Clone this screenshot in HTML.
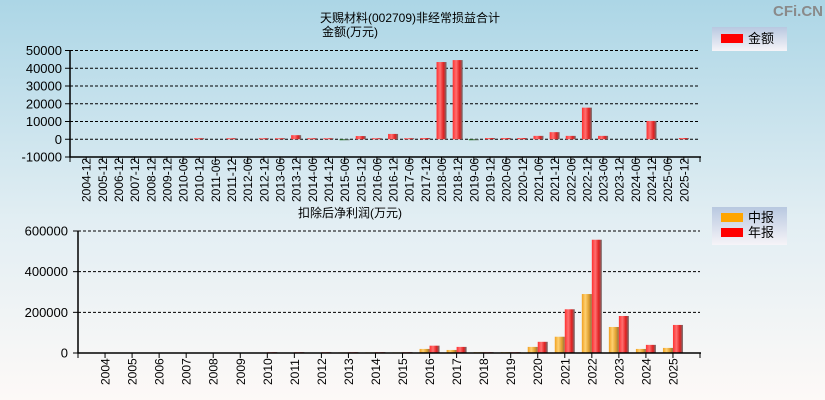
<!DOCTYPE html>
<html><head><meta charset="utf-8"><style>
body{margin:0;width:825px;height:400px;overflow:hidden;font-family:"Liberation Sans","Noto Sans CJK SC",sans-serif;}
svg{display:block}
</style></head><body>
<svg width="825" height="400" xmlns="http://www.w3.org/2000/svg" font-family="Liberation Sans, Noto Sans CJK SC, sans-serif">
<defs>
<linearGradient id="bg" x1="0" y1="0" x2="0" y2="1"><stop offset="0" stop-color="#acd6e6"/><stop offset="0.55" stop-color="#e2eef3"/><stop offset="1" stop-color="#fdf9f7"/></linearGradient>
<linearGradient id="red" x1="0" y1="0" x2="1" y2="0"><stop offset="0" stop-color="#ff3030"/><stop offset="0.35" stop-color="#ff7070"/><stop offset="0.7" stop-color="#e02020"/><stop offset="1" stop-color="#707070"/></linearGradient>
<linearGradient id="org" x1="0" y1="0" x2="1" y2="0"><stop offset="0" stop-color="#f0a020"/><stop offset="0.35" stop-color="#ffd070"/><stop offset="0.7" stop-color="#e0a030"/><stop offset="1" stop-color="#907040"/></linearGradient>
<linearGradient id="grn" x1="0" y1="0" x2="1" y2="0"><stop offset="0" stop-color="#208020"/><stop offset="1" stop-color="#707070"/></linearGradient>
<linearGradient id="leg" x1="0" y1="0" x2="0" y2="1"><stop offset="0" stop-color="#b8c8e0"/><stop offset="1" stop-color="#f6f4f8"/></linearGradient>
</defs>
<rect width="825" height="400" fill="url(#bg)"/>
<text x="798" y="16" font-size="15" font-weight="bold" fill="#8a8a8a" text-anchor="middle">CFi.CN</text>
<text x="410" y="22" font-size="12" text-anchor="middle">天赐材料(002709)非经常损益合计</text>
<text x="350" y="36" font-size="12" text-anchor="middle">金额(万元)</text>
<g>
<rect x="712" y="27" width="75" height="24" fill="url(#leg)"/>
<rect x="721" y="34" width="22" height="9" fill="#ff0000"/>
<text x="748" y="43" font-size="13">金额</text>
</g>
<g id="top"></g>
<text x="350" y="217" font-size="12" text-anchor="middle">扣除后净利润(万元)</text>
<g>
<rect x="712" y="207" width="75" height="38" fill="url(#leg)"/>
<rect x="721" y="213" width="22" height="9" fill="#ffa500"/>
<text x="748" y="222" font-size="13">中报</text>
<rect x="721" y="228" width="22" height="9" fill="#ff0000"/>
<text x="748" y="237" font-size="13">年报</text>
</g>
<g id="bot"></g>
</svg>
<script>
const topCats=["2004-12","2005-12","2006-12","2007-12","2008-12","2009-12","2010-06","2010-12","2011-06","2011-12","2012-06","2012-12","2013-06","2013-12","2014-06","2014-12","2015-06","2015-12","2016-06","2016-12","2017-06","2017-12","2018-06","2018-12","2019-06","2019-12","2020-06","2020-12","2021-06","2021-12","2022-06","2022-12","2023-06","2023-12","2024-06","2024-12","2025-06","2025-12"];
const topVals=[0,0,0,0,0,0,0,600,0,600,0,600,600,2300,600,600,-500,1800,600,3000,600,700,43500,44600,-500,700,700,700,1900,4000,1900,17800,1900,0,0,10300,0,700];
const topTicks=[50000,40000,30000,20000,10000,0,-10000];
const botCats=["2004","2005","2006","2007","2008","2009","2010","2011","2012","2013","2014","2015","2016","2017","2018","2019","2020","2021","2022","2023","2024","2025"];
const botMid=[0,0,0,0,0,0,0,0,0,3000,3000,3000,20000,15000,4000,4000,30000,80000,290000,128000,20000,25000];
const botAnn=[0,0,0,0,0,0,4000,4000,4000,4000,4000,4000,36000,30000,4000,4000,55000,215000,557000,182000,40000,138000];
const botTicks=[600000,400000,200000,0];
const NS="http://www.w3.org/2000/svg";
function mk(p,t,a){const e=document.createElementNS(NS,t);for(const k in a)e.setAttribute(k,a[k]);p.appendChild(e);return e;}
// top chart
(function(){
const g=document.getElementById('top');
const x0=70,x1=700,yTop=50.5,yBot=157;
const y=v=>yTop+(50000-v)*(yBot-yTop)/60000;
const step=(x1-x0)/(topCats.length+1);
const cx=i=>x0+(i+1)*step;
topTicks.forEach(t=>{
 if(t!==-10000){const l=mk(g,'line',{x1:x0,x2:x1,y1:y(t),y2:y(t),stroke:'#000','stroke-dasharray':'3,2','stroke-width':1});
 
 }
 const tk=mk(g,'line',{x1:x0-5,x2:x0,y1:y(t),y2:y(t),stroke:'#000'});
 
 
 const tx=mk(g,'text',{x:x0-8,y:y(t)+4.5,'font-size':13,'text-anchor':'end'});tx.textContent=t;
 
 
});
topVals.forEach((v,i)=>{
 if(v===0)return;
 const a=y(Math.max(v,0)),b=y(Math.min(v,0));
 const r=mk(g,'rect',{x:cx(i)-5,y:a,width:10,height:Math.max(b-a,1),fill:v<0?'url(#grn)':'url(#red)'});
 
 
});
const ax=mk(g,'path',{d:`M${x0} ${yTop}V${yBot}H${x1+1}`,stroke:'#000',fill:'none','stroke-width':1.5});


topCats.forEach((c,i)=>{
 const tk=mk(g,'line',{x1:cx(i),x2:cx(i),y1:yBot,y2:yBot+5,stroke:'#000'});
 
 
 const t=mk(g,'text',{transform:`translate(${cx(i)+4.5},${yBot+45}) rotate(-90)`,'font-size':12});t.textContent=c;
 
 
});
const e=mk(g,'line',{x1:x0,x2:x0,y1:yBot,y2:yBot+5,stroke:'#000'});


const e2=mk(g,'line',{x1:x1,x2:x1,y1:yBot,y2:yBot+5,stroke:'#000'});


})();
// bottom chart
(function(){
const g=document.getElementById('bot');
const x0=78,x1=700,yTop=231,yBot=353;
const y=v=>yBot-v*(yBot-yTop)/600000;
const step=(x1-x0)/(botCats.length+1);
const cx=i=>x0+(i+1)*step;
botTicks.forEach(t=>{
 if(t!==0){const l=mk(g,'line',{x1:x0,x2:x1,y1:y(t),y2:y(t),stroke:'#000','stroke-dasharray':'3,2','stroke-width':1});
 
 }
 const tk=mk(g,'line',{x1:x0-5,x2:x0,y1:y(t),y2:y(t),stroke:'#000'});
 
 
 const tx=mk(g,'text',{x:x0-10,y:y(t)+4.5,'font-size':13,'text-anchor':'end'});tx.textContent=t;
 
 
});
botMid.forEach((v,i)=>{
 if(v<=0)return;
 const r=mk(g,'rect',{x:cx(i)-10,y:y(v),width:10,height:yBot-y(v),fill:'url(#org)'});
 
 
});
botAnn.forEach((v,i)=>{
 if(v<=0)return;
 const r=mk(g,'rect',{x:cx(i),y:y(v),width:10,height:yBot-y(v),fill:'url(#red)'});
 
 
});
const ax=mk(g,'path',{d:`M${x0} ${yTop}V${yBot}H${x1+1}`,stroke:'#000',fill:'none','stroke-width':1.5});


botCats.forEach((c,i)=>{
 const tk=mk(g,'line',{x1:cx(i),x2:cx(i),y1:yBot,y2:yBot+5,stroke:'#000'});
 
 
 const t=mk(g,'text',{transform:`translate(${cx(i)+4.5},${yBot+32}) rotate(-90)`,'font-size':12});t.textContent=c;
 
 
});
[x0,x1].forEach(xx=>{const e=mk(g,'line',{x1:xx,x2:xx,y1:yBot,y2:yBot+5,stroke:'#000'});
 
 });
})();
</script>
</body></html>
